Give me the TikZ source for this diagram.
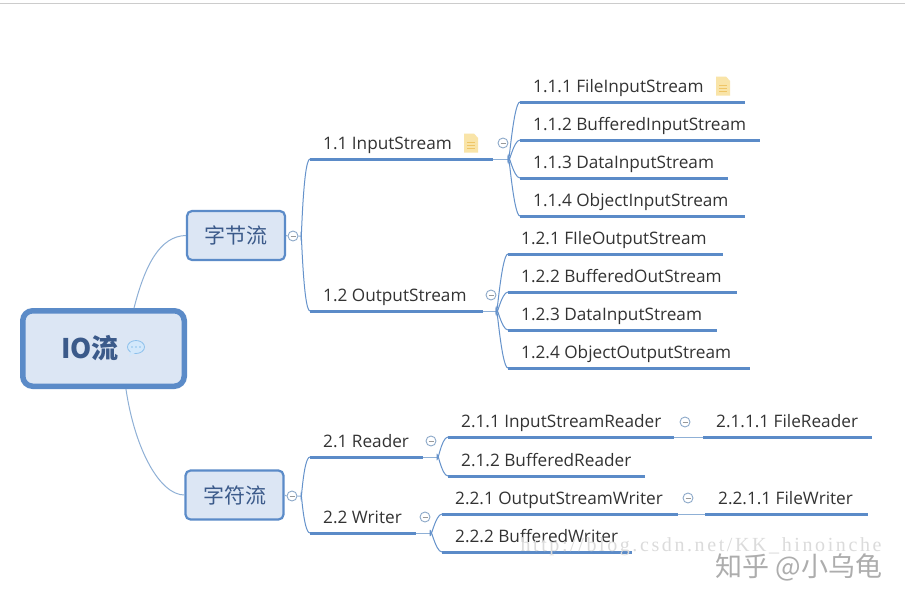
\documentclass[tikz,border=0pt]{standalone}
\usepackage{fontspec}
\setmainfont{Open Sans}
\newfontfamily\cjk{Noto Sans CJK SC}
\newfontfamily\wmfont[LetterSpace=13]{Liberation Serif}
\definecolor{barblue}{HTML}{5B8BC8}
\definecolor{linkblue}{HTML}{8FB0D6}
\definecolor{boxfill}{HTML}{DCE6F4}
\definecolor{inktext}{HTML}{333333}
\definecolor{rootink}{HTML}{3B5A8A}
\definecolor{noteyellow}{HTML}{F9E4A8}
\definecolor{noteline}{HTML}{EFC566}
\definecolor{bubblefill}{HTML}{D3E8FB}
\definecolor{bubbleline}{HTML}{8CC0EC}
\tikzset{
    topic/.style={anchor=south west, inner xsep=0pt, inner ysep=7pt, text height=13pt, text depth=4pt,
        text=inktext, font=\fontsize{17.2}{19}\selectfont},
    bar/.style={draw=barblue, line width=3pt},
    link/.style={draw=linkblue, line width=1pt},
    branchbox/.style={draw=barblue, line width=2.2pt, fill=boxfill, rounded corners=5pt, minimum width=98pt,
        minimum height=49pt, inner sep=0pt, text=rootink, font=\cjk\fontsize{21}{24}\selectfont},
    rootbox/.style={draw=barblue, line width=5.5pt, fill=boxfill, rounded corners=10pt, minimum width=161.5pt,
        minimum height=75.5pt, inner sep=0pt},
    fold/.style={circle, draw=linkblue!85!gray, fill=white, line width=.9pt, minimum size=10pt, inner sep=0pt},
    foldmark/.style={draw=gray!80, line width=.6pt},
    noteicon/.pic={
        \fill[noteyellow] (-7,-9.5) -- (3,-9.5) -- (7,-5) -- (7,9.5) -- (-7,9.5) -- cycle;
        \draw[noteline, line width=.8pt] (-4,-1) -- (4,-1) (-4,2) -- (4,2) (-4,5) -- (4,5);
    },
}
\begin{document}
\begin{tikzpicture}[x=1pt, y=-1pt]
    \useasboundingbox (0,0) rectangle (905,603);
    \fill[white] (0,0) rectangle (905,603);
    \draw[black!20, line width=1pt] (0,3) -- (905,3);
    % boxes
    \node[rootbox] (root) at (103.5,348.5) {};
    \node[branchbox] (bytes) at (236,235.5) {字节流};
    \node[branchbox] (chars) at (234.5,495) {字符流};
    \node[text=rootink, font=\cjk\bfseries\fontsize{27}{30}\selectfont] (rootlabel) at (90,348) {IO流};
    % topics
    \foreach \name/\x/\y/\w/\txt in {
        t11/310/159/183/1.1 InputStream,
        t12/310/311/173/1.2 OutputStream,
        t21/310/457/113/2.1 Reader,
        t22/310/533/106/2.2 Writer,
        t111/520/102/225/1.1.1 FileInputStream,
        t112/520/140/240/1.1.2 BufferedInputStream,
        t113/520/178/208/1.1.3 DataInputStream,
        t114/520/216/225/1.1.4 ObjectInputStream,
        t121/508/254/215/1.2.1 FIleOutputStream,
        t122/508/292/229/1.2.2 BufferedOutStream,
        t123/508/330/209/1.2.3 DataInputStream,
        t124/508/368/242/1.2.4 ObjectOutputStream,
        t211/448/437/226/2.1.1 InputStreamReader,
        t212/448/476/197/2.1.2 BufferedReader,
        t221/442/514/236/2.2.1 OutputStreamWriter,
        t222/442/552/190/2.2.2 BufferedWriter,
        t2111/703/437/169/2.1.1.1 FileReader,
        t2211/705/514/163/2.2.1.1 FileWriter
    } {
        \node[topic] (\name) at (\x,\y+1.5) {\makebox[\w pt][l]{\hspace{13pt}\txt}};
        \draw[bar] ([yshift=1.5pt]\name.south west) -- ([yshift=1.5pt]\name.south east);
    }
    % fold marks
    \foreach \name/\x/\y in {f1/293/236, f2/292/496, f11/503/143, f12/491/295, f21/431/441, f22/425/517, f211/685/422, f221/688/498} {
        \node[fold] (\name) at (\x,\y) {};
        \draw[foldmark] ([xshift=-2.5pt]\name.center) -- ([xshift=2.5pt]\name.center);
    }
    % junctions
    \coordinate (j1) at (301,236);
    \coordinate (j2) at (301,496);
    \coordinate (j11) at (508,159);
    \coordinate (j12) at (496,311);
    \coordinate (j21) at (437,457);
    \coordinate (j22) at (430,533);
    % connectors
    \draw[link] (root.53) .. controls (145,265) and (160,236) .. (bytes.west);
    \draw[link] (root.-61) .. controls (135,450) and (160,495) .. (chars.west);
    \draw[link] (bytes.east) -- (f1.west) (f1.east) -- (j1);
    \draw[link] (chars.east) -- (f2.west) (f2.east) -- (j2);
    \draw[link] ([yshift=1.5pt]t11.south east) -- (j11);
    \draw[link] ([yshift=1.5pt]t12.south east) -- (j12);
    \draw[link] ([yshift=1.5pt]t21.south east) -- (j21);
    \draw[link] ([yshift=1.5pt]t22.south east) -- (j22);
    \draw[link] ([yshift=1.5pt]t211.south east) -- ([yshift=1.5pt]t2111.south west);
    \draw[link] ([yshift=1.5pt]t221.south east) -- ([yshift=1.5pt]t2211.south west);
    \foreach \a/\b in {j1/t11, j2/t21, j11/t111, j11/t112, j12/t121, j12/t122, j21/t211, j22/t221}
        \draw[link, barblue!80!linkblue] (\a) to[out=-90, in=180, out looseness=.9, in looseness=.25, out min distance=11pt, in min distance=7pt] ([yshift=1.5pt]\b.south west);
    \foreach \a/\b in {j1/t12, j2/t22, j11/t113, j11/t114, j12/t123, j12/t124, j21/t212, j22/t222}
        \draw[link, barblue!80!linkblue] (\a) to[out=90, in=180, out looseness=.9, in looseness=.25, out min distance=11pt, in min distance=7pt] ([yshift=1.5pt]\b.south west);
    % icons
    \pic at (471,143) {noteicon};
    \pic at (723,86) {noteicon};
    \draw[bubbleline, fill=bubblefill, line width=.8pt] (136,347) ellipse (8.5pt and 6.5pt);
    \fill[bubblefill] (131,351) -- (129,357) -- (136,352) -- cycle;
    \foreach \x in {132,136,140} \fill[bubbleline] (\x,347) circle (.9pt);
    % watermarks
    \node[text=black!14, font=\wmfont\fontsize{20}{22}\selectfont, inner sep=0pt] (csdn) at (701,547) {http://blog.csdn.net/KK\_hinoinche};
    \node[text=black!32, font=\cjk\fontsize{27}{29}\selectfont, inner sep=0pt] (zhihu) at (799,567) {知乎 @小乌龟};
\end{tikzpicture}
\end{document}
